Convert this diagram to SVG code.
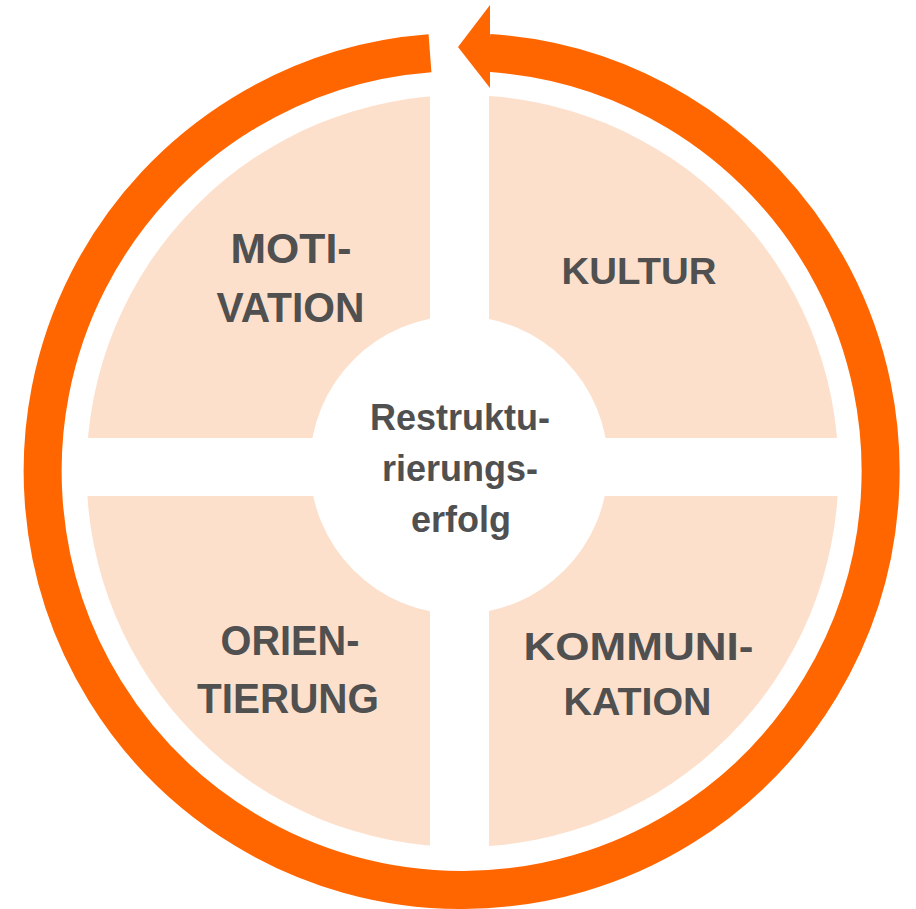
<svg xmlns="http://www.w3.org/2000/svg" width="916" height="909" viewBox="0 0 916 909">
  <style>
    .quad { fill: #FDE0CC; }
    .lbl { font-family: "Liberation Sans", Arial, sans-serif; font-weight: bold; fill: #505050; text-anchor: middle; }
    .ring { fill: none; stroke: #FF6600; stroke-width: 38; stroke-linecap: butt; }
    .head { fill: #FF6600; }
  </style>
  <defs>
    <clipPath id="disc">
      <circle cx="462.5" cy="471" r="376"/>
    </clipPath>
  </defs>
  <rect width="916" height="909" fill="#FFFFFF"/>

  <g id="connectors">
    <path class="ring" d="M 489 52.9 A 419 419 0 1 1 430 53.2"/>
    <polygon class="head" points="458,47 490,5 490,88"/>
  </g>

  <g id="motivation">
    <rect class="quad" x="0" y="0" width="430" height="438" clip-path="url(#disc)"/>
    <text class="lbl" x="291" y="263" font-size="42" textLength="121" lengthAdjust="spacingAndGlyphs">MOTI-</text>
    <text class="lbl" x="290.5" y="322" font-size="42" textLength="148" lengthAdjust="spacingAndGlyphs">VATION</text>
  </g>

  <g id="kultur">
    <rect class="quad" x="489" y="0" width="427" height="438" clip-path="url(#disc)"/>
    <text class="lbl" x="639" y="284" font-size="37" textLength="155" lengthAdjust="spacingAndGlyphs">KULTUR</text>
  </g>

  <g id="orientierung">
    <rect class="quad" x="0" y="496" width="430" height="413" clip-path="url(#disc)"/>
    <text class="lbl" x="290" y="655" font-size="42" textLength="139" lengthAdjust="spacingAndGlyphs">ORIEN-</text>
    <text class="lbl" x="288" y="713" font-size="42" textLength="182" lengthAdjust="spacingAndGlyphs">TIERUNG</text>
  </g>

  <g id="kommunikation">
    <rect class="quad" x="489" y="496" width="427" height="413" clip-path="url(#disc)"/>
    <text class="lbl" x="638.5" y="660" font-size="39" textLength="230" lengthAdjust="spacingAndGlyphs">KOMMUNI-</text>
    <text class="lbl" x="637.5" y="715" font-size="39" textLength="148" lengthAdjust="spacingAndGlyphs">KATION</text>
  </g>

  <g id="restrukturierungserfolg">
    <circle cx="459" cy="465" r="149" fill="#FFFFFF"/>
    <text class="lbl" x="460" y="430" font-size="36">Restruktu-</text>
    <text class="lbl" x="460" y="481" font-size="36">rierungs-</text>
    <text class="lbl" x="461" y="532" font-size="36">erfolg</text>
  </g>
</svg>
